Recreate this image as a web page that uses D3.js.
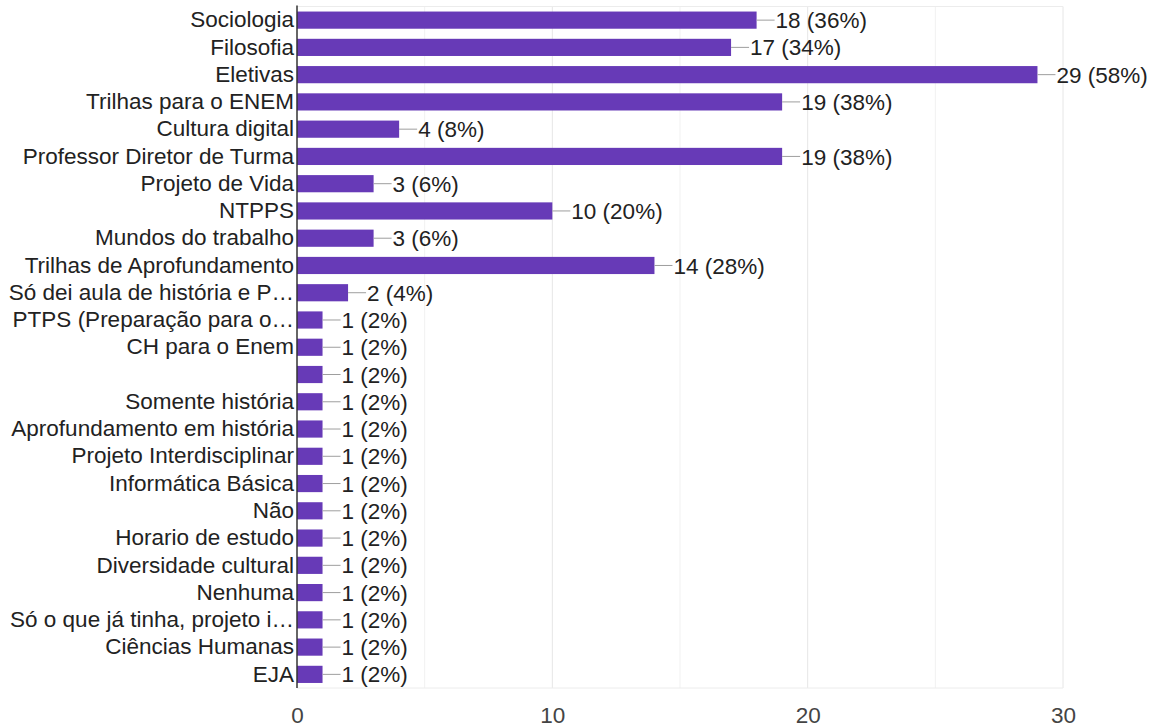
<!DOCTYPE html>
<html>
<head>
<meta charset="utf-8">
<script src="https://cdn.jsdelivr.net/npm/d3@7"></script>
<style>
  html, body { margin: 0; padding: 0; background: #fff; }
  svg { display: block; }
  text { font-family: "Liberation Sans", Arial, sans-serif; }
</style>
</head>
<body>
<svg id="chart" width="1162" height="728"></svg>
<script>
// Response categories (top to bottom) and their counts
const categories = [
  "Sociologia",
  "Filosofia",
  "Eletivas",
  "Trilhas para o ENEM",
  "Cultura digital",
  "Professor Diretor de Turma",
  "Projeto de Vida",
  "NTPPS",
  "Mundos do trabalho",
  "Trilhas de Aprofundamento",
  "Só dei aula de história e P…",
  "PTPS (Preparação para o…",
  "CH para o Enem",
  "",
  "Somente história",
  "Aprofundamento em história",
  "Projeto Interdisciplinar",
  "Informática Básica",
  "Não",
  "Horario de estudo",
  "Diversidade cultural",
  "Nenhuma",
  "Só o que já tinha, projeto i…",
  "Ciências Humanas",
  "EJA"
];
const counts = [18, 17, 29, 19, 4, 19, 3, 10, 3, 14, 2, 1, 1, 1, 1, 1, 1, 1, 1, 1, 1, 1, 1, 1, 1];
const totalResponses = 50;
const xTicks = [0, 10, 20, 30];
const xMinorTicks = [5, 15, 25];

const svg = d3.select("#chart");
const margin = { left: 297, right: 99, top: 6.5, bottom: 40 };
const width = 1162, height = 728;
const plotBottom = height - margin.bottom;

const x = d3.scaleLinear().domain([0, 30]).range([margin.left, width - margin.right]);
const y = d3.scaleBand()
  .domain(d3.range(categories.length))
  .range([margin.top, plotBottom])
  .paddingInner(0.37)
  .paddingOuter(0.185);

const fontSize = 22.5;

// Gridlines
svg.append("g").selectAll("line.minor")
  .data(xMinorTicks).join("line")
  .attr("x1", d => x(d)).attr("x2", d => x(d))
  .attr("y1", margin.top).attr("y2", plotBottom)
  .attr("stroke", "#f1f1f1").attr("stroke-width", 1);
svg.append("g").selectAll("line.major")
  .data(xTicks.slice(1)).join("line")
  .attr("x1", d => x(d)).attr("x2", d => x(d))
  .attr("y1", margin.top).attr("y2", plotBottom)
  .attr("stroke", "#e6e6e6").attr("stroke-width", 1);

// Plot frame (top and bottom)
svg.append("line")
  .attr("x1", x(0)).attr("x2", x(30))
  .attr("y1", margin.top).attr("y2", margin.top)
  .attr("stroke", "#ececec");
svg.append("line")
  .attr("x1", x(0)).attr("x2", x(30))
  .attr("y1", plotBottom).attr("y2", plotBottom)
  .attr("stroke", "#ececec");

// Bars
svg.append("g").selectAll("rect")
  .data(counts).join("rect")
  .attr("x", x(0))
  .attr("y", (d, i) => y(i))
  .attr("width", d => x(d) - x(0))
  .attr("height", y.bandwidth())
  .attr("fill", "#673ab7");

// Value labels with leader lines
const valueGroup = svg.append("g");
valueGroup.selectAll("line")
  .data(counts).join("line")
  .attr("x1", d => x(d))
  .attr("x2", d => x(d) + 18)
  .attr("y1", (d, i) => y(i) + y.bandwidth() / 2)
  .attr("y2", (d, i) => y(i) + y.bandwidth() / 2)
  .attr("stroke", "#9e9e9e").attr("stroke-width", 1);
valueGroup.selectAll("text")
  .data(counts).join("text")
  .attr("x", d => x(d) + 19)
  .attr("y", (d, i) => y(i) + y.bandwidth() / 2)
  .attr("dy", "0.36em")
  .attr("font-size", fontSize)
  .attr("fill", "#222")
  .text(d => `${d} (${Math.round(d / totalResponses * 100)}%)`);

// Category axis
const yAxis = d3.axisLeft(y)
  .tickSize(0)
  .tickPadding(3)
  .tickFormat(i => categories[i]);
const yg = svg.append("g")
  .attr("transform", `translate(${x(0)},0)`)
  .call(yAxis);
yg.select(".domain").remove();
yg.selectAll("text")
  .attr("font-size", fontSize)
  .attr("font-family", "'Liberation Sans', Arial, sans-serif")
  .attr("fill", "#222");

// Zero baseline
svg.append("line")
  .attr("x1", x(0)).attr("x2", x(0))
  .attr("y1", margin.top - 1).attr("y2", plotBottom)
  .attr("stroke", "#333").attr("stroke-width", 1.5);

// Value axis
const xAxis = d3.axisBottom(x).tickValues(xTicks).tickSize(0).tickPadding(19);
const xg = svg.append("g")
  .attr("transform", `translate(0,${plotBottom})`)
  .call(xAxis);
xg.select(".domain").remove();
xg.selectAll("text")
  .attr("font-size", fontSize)
  .attr("font-family", "'Liberation Sans', Arial, sans-serif")
  .attr("fill", "#444");
</script>
</body>
</html>
